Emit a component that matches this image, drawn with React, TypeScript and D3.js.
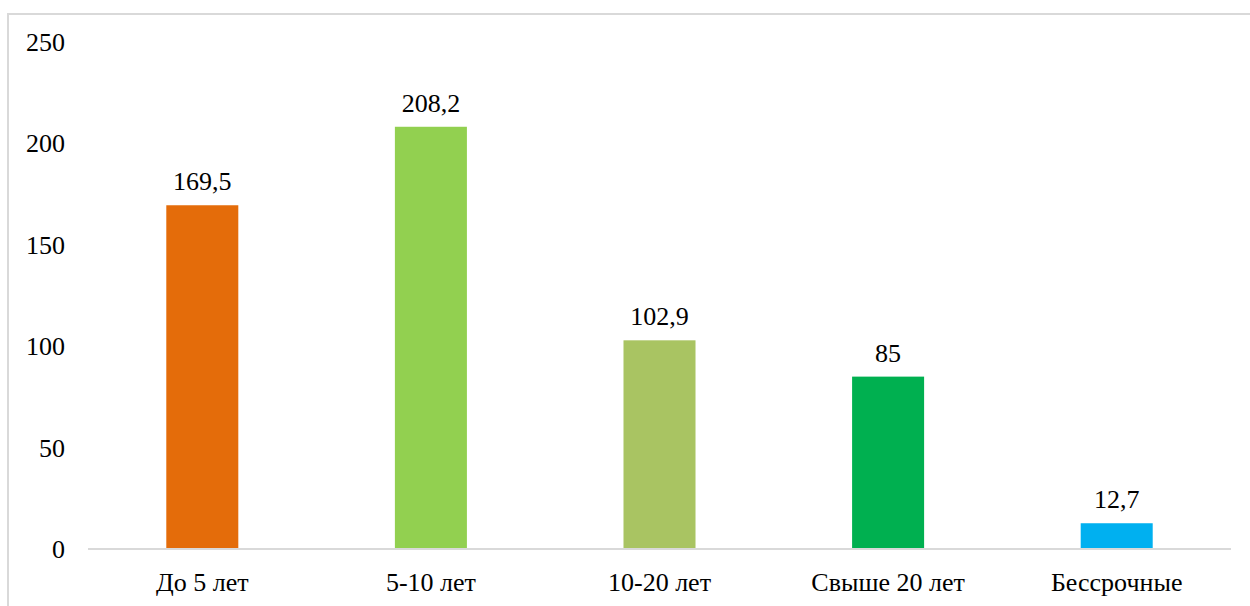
import React from "react";
import * as d3 from "d3";

const categories = ["До 5 лет", "5-10 лет", "10-20 лет", "Свыше 20 лет", "Бессрочные"];
const values = [169.5, 208.2, 102.9, 85, 12.7];
const valueLabels = ["169,5", "208,2", "102,9", "85", "12,7"];
const colors = ["#E46C0A", "#92D050", "#A9C462", "#00B050", "#00B0F0"];
const yTicks = [0, 50, 100, 150, 200, 250];

const W = 1250;
const H = 606;

export default function App() {
  const x = d3.scaleBand<string>().domain(categories).range([88, 1231]).padding(0);
  const y = d3.scaleLinear().domain([0, 250]).range([549, 42]);
  const bw = x.bandwidth();
  const barW = bw * 0.315;
  const textStyle = { fontFamily: "'Liberation Serif'", fontSize: "26px" };

  return (
    <svg
      width={W}
      height={H}
      style={{ position: "absolute", left: 0, top: 0, background: "#fff" }}
    >
      {/* chart frame, running off the right and bottom edges */}
      <rect x={8} y={14} width={W + 10} height={H + 10} fill="none" stroke="#D9D9D9" strokeWidth={2} />

      {yTicks.map((t) => (
        <text key={t} x={65} y={y(t) + 9} textAnchor="end" style={textStyle} fill="#000">
          {t}
        </text>
      ))}

      {categories.map((c, i) => {
        const cx = (x(c) as number) + bw / 2;
        return (
          <g key={c}>
            <rect
              x={cx - barW / 2}
              y={y(values[i])}
              width={barW}
              height={y(0) - y(values[i])}
              fill={colors[i]}
            />
            <text x={cx} y={y(values[i]) - 15} textAnchor="middle" style={textStyle} fill="#000">
              {valueLabels[i]}
            </text>
            <text x={cx} y={591} textAnchor="middle" style={textStyle} fill="#000">
              {c}
            </text>
          </g>
        );
      })}

      <line x1={88} x2={1231} y1={y(0)} y2={y(0)} stroke="#D9D9D9" strokeWidth={2} />
    </svg>
  );
}
